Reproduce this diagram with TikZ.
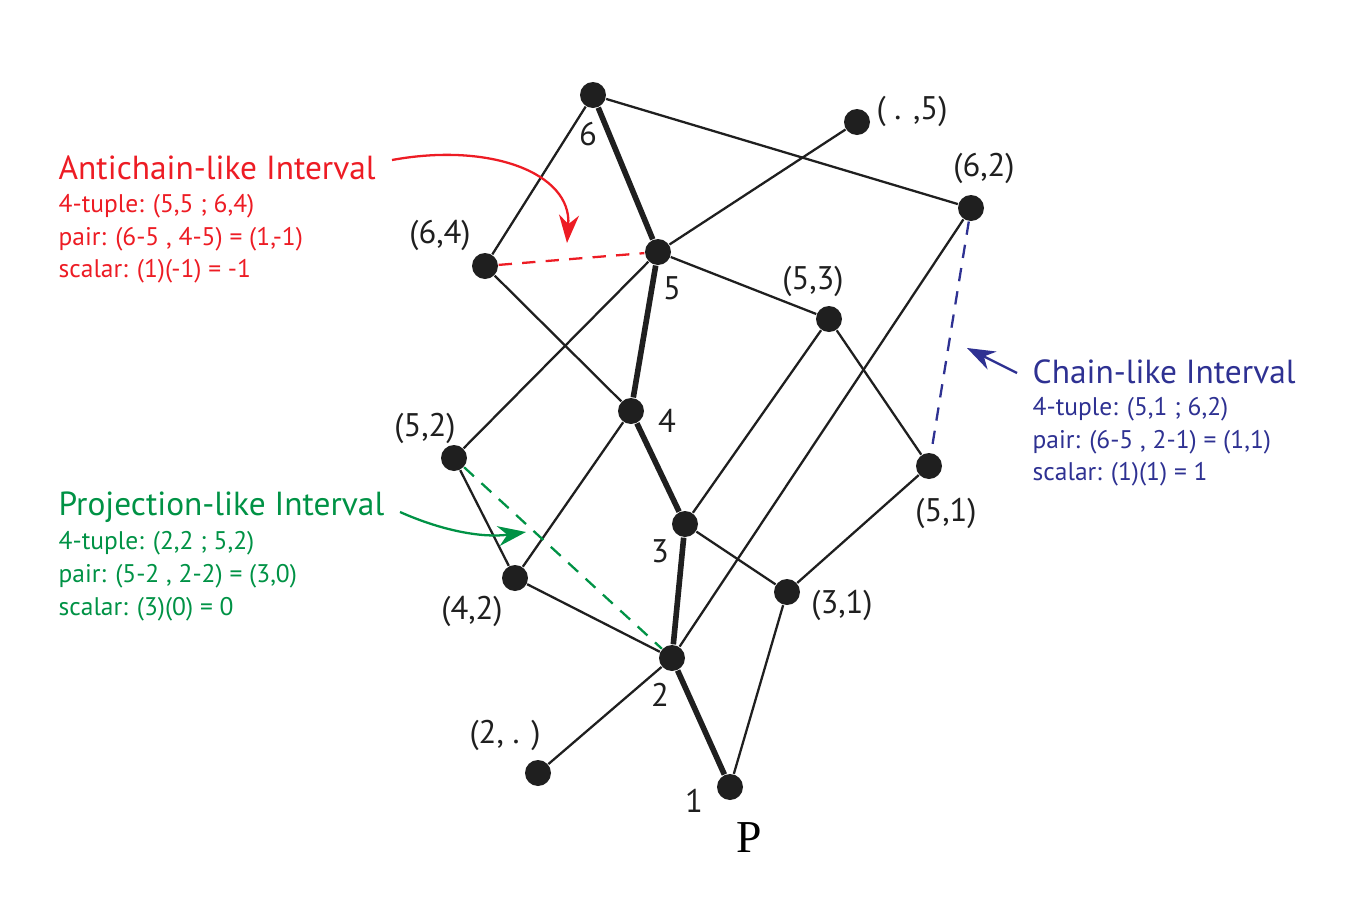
\documentclass[tikz,border=0pt]{standalone}
\usepackage{fontspec}
\setmainfont{PT Sans}
\newfontfamily\pfont{Liberation Serif}
\usepackage{tikz}
\usetikzlibrary{arrows.meta}
\definecolor{ired}{RGB}{237,28,36}
\definecolor{igreen}{RGB}{0,146,69}
\definecolor{iblue}{RGB}{46,49,146}

\begin{document}
\begin{tikzpicture}[
    dot/.style={circle, fill=black!88, inner sep=0pt, minimum size=0.26cm},
    thin/.style={line width=0.65pt, black!88},
    thick/.style={line width=1.6pt, black!88},
    lbl/.style={font=\fontsize{9.3}{11}\selectfont, text=black!88, inner sep=0pt},
    title/.style={font=\fontsize{9.5}{11}\selectfont, anchor=west, inner sep=0pt},
    info/.style={font=\fontsize{7.25}{8}\selectfont, anchor=west, inner sep=0pt},
    dsh/.style={line width=0.65pt, dash pattern=on 3.8pt off 2.9pt}
  ]
  \useasboundingbox (0,0) rectangle (13.64,9.08);
  % chain P
  \node [dot] (n6) at (5.93, 8.13) {};
  \node [dot] (n5) at (6.58, 6.56) {};
  \node [dot] (n4) at (6.31, 4.97) {};
  \node [dot] (n3) at (6.85, 3.84) {};
  \node [dot] (n2) at (6.72, 2.50) {};
  \node [dot] (n1) at (7.30, 1.21) {};
  % pairs
  \node [dot] (x5)  at (8.57, 7.86) {};
  \node [dot] (x62) at (9.71, 7.00) {};
  \node [dot] (x64) at (4.85, 6.42) {};
  \node [dot] (x53) at (8.29, 5.89) {};
  \node [dot] (x52) at (4.54, 4.50) {};
  \node [dot] (x51) at (9.29, 4.42) {};
  \node [dot] (x42) at (5.15, 3.30) {};
  \node [dot] (x31) at (7.87, 3.16) {};
  \node [dot] (x2)  at (5.38, 1.35) {};
  % labels
  \node [lbl] (l6) at (5.88, 7.74) {6};
  \node [lbl] (l5) at (6.72, 6.20) {5};
  \node [lbl] (l4) at (6.67, 4.87) {4};
  \node [lbl] (l3) at (6.60, 3.57) {3};
  \node [lbl] (l2) at (6.60, 2.13) {2};
  \node [lbl] (l1) at (6.94, 1.07) {1};
  \node [font=\pfont\fontsize{13}{15}\selectfont, inner sep=0pt] (lP) at (7.49, 0.70) {P};
  \node [lbl] (ly5)  at (9.12, 7.97) {( . ,5)};
  \node [lbl] (l62)  at (9.84, 7.40) {(6,2)};
  \node [lbl] (l64)  at (4.40, 6.73) {(6,4)};
  \node [lbl] (l53)  at (8.13, 6.27) {(5,3)};
  \node [lbl] (l52)  at (4.25, 4.80) {(5,2)};
  \node [lbl] (l51)  at (9.46, 3.95) {(5,1)};
  \node [lbl] (l42)  at (4.72, 2.97) {(4,2)};
  \node [lbl] (l31)  at (8.42, 3.03) {(3,1)};
  \node [lbl] (lx2)  at (5.05, 1.73) {(2, . )};
  % chain edges
  \draw [thick] (n6) -- (n5);
  \draw [thick] (n5) -- (n4);
  \draw [thick] (n4) -- (n3);
  \draw [thick] (n3) -- (n2);
  \draw [thick] (n2) -- (n1);
  % other edges
  \draw [thin] (n6) -- (x64);
  \draw [thin] (n6) -- (x62);
  \draw [thin] (x5) -- (n5);
  \draw [thin] (n5) -- (x52);
  \draw [thin] (n5) -- (x53);
  \draw [thin] (x64) -- (n4);
  \draw [thin] (x62) -- (n2);
  \draw [thin] (x53) -- (n3);
  \draw [thin] (x53) -- (x51);
  \draw [thin] (n4) -- (x42);
  \draw [thin] (x52) -- (x42);
  \draw [thin] (x42) -- (n2);
  \draw [thin] (n3) -- (x31);
  \draw [thin] (x51) -- (x31);
  \draw [thin] (x31) -- (n1);
  \draw [thin] (n2) -- (x2);
  % intervals
  \draw [dsh, ired] (x64) -- (n5);
  \draw [dsh, igreen] (x52) -- (n2);
  \draw [dsh, iblue] (x62) -- (x51);
  % antichain-like
  \node [title, text=ired] (ta) at (0.58, 7.40) {Antichain-like Interval};
  \node [info, text=ired] (ta1) at (0.58, 7.02) {4-tuple: (5,5 ; 6,4)};
  \node [info, text=ired] (ta2) at (0.58, 6.69) {pair: (6-5 , 4-5) = (1,-1)};
  \node [info, text=ired] (ta3) at (0.58, 6.37) {scalar: (1)(-1) = -1};
  \coordinate (ca) at (5.67, 6.65);
  \draw [ired, line width=0.65pt, -{Stealth[length=2.8mm, width=2mm]}]
    (3.92, 7.48) .. controls (4.9, 7.66) and (5.72, 7.35) .. (ca);
  % projection-like
  \node [title, text=igreen] (tp) at (0.58, 4.01) {Projection-like Interval};
  \node [info, text=igreen] (tp1) at (0.58, 3.65) {4-tuple: (2,2 ; 5,2)};
  \node [info, text=igreen] (tp2) at (0.58, 3.32) {pair: (5-2 , 2-2) = (3,0)};
  \node [info, text=igreen] (tp3) at (0.58, 2.99) {scalar: (3)(0) = 0};
  \coordinate (cp) at (5.26, 3.76);
  \draw [igreen, line width=0.65pt, -{Stealth[length=2.8mm, width=2mm]}]
    (4.00, 3.96) .. controls (4.45, 3.76) and (4.85, 3.70) .. (cp);
  % chain-like
  \node [title, text=iblue] (tc) at (10.32, 5.36) {Chain-like Interval};
  \node [info, text=iblue] (tc1) at (10.32, 4.99) {4-tuple: (5,1 ; 6,2)};
  \node [info, text=iblue] (tc2) at (10.32, 4.66) {pair: (6-5 , 2-1) = (1,1)};
  \node [info, text=iblue] (tc3) at (10.32, 4.34) {scalar: (1)(1) = 1};
  \coordinate (cc) at (9.67, 5.60);
  \draw [iblue, line width=0.65pt, -{Stealth[length=2.8mm, width=2mm]}]
    (10.17, 5.35) -- (cc);
\end{tikzpicture}
\end{document}
